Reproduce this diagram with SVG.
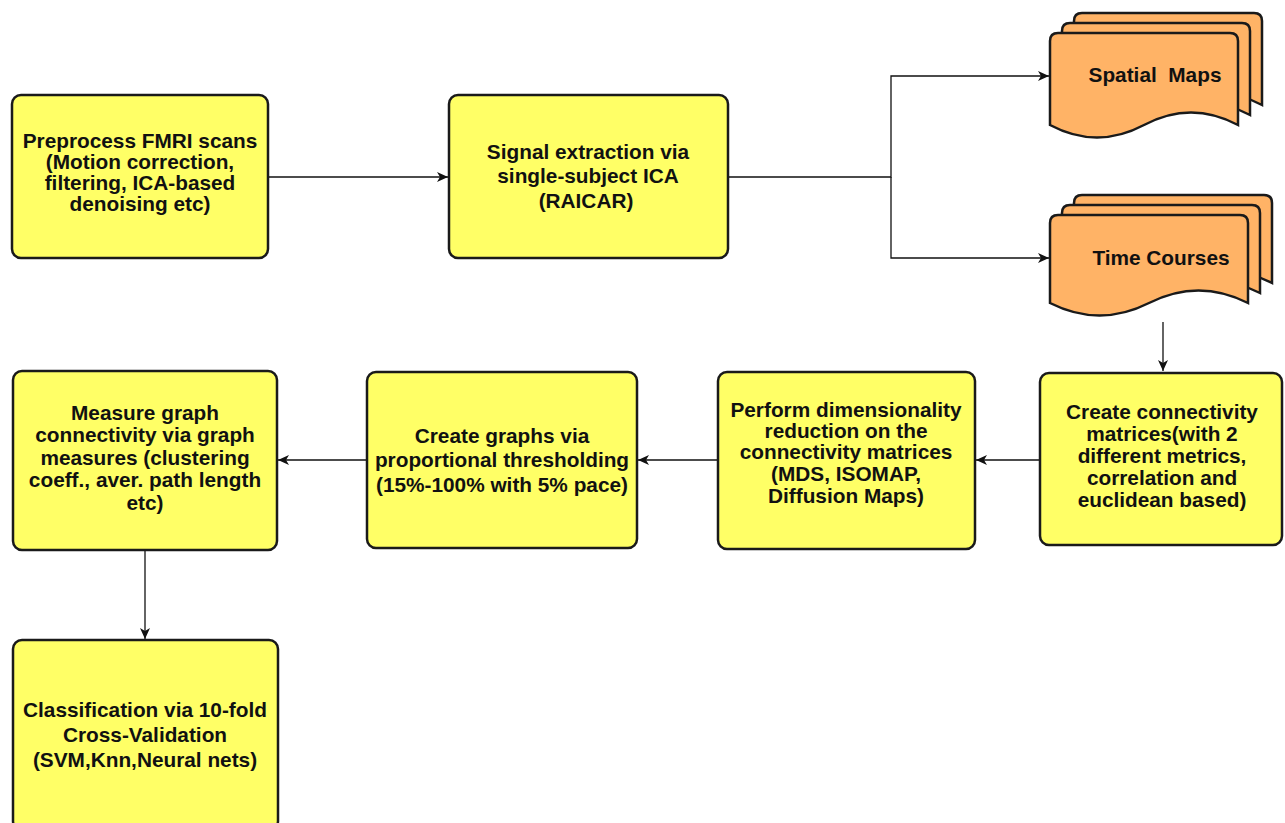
<svg xmlns="http://www.w3.org/2000/svg" width="1285" height="823" viewBox="0 0 1285 823">
<style>
.box{fill:#FFFF66;stroke:#1a1a1a;stroke-width:2.5}
.doc{fill:#FFB366;stroke:#1a1a1a;stroke-width:2.5}
.t{font-family:"Liberation Sans",Arial,sans-serif;font-weight:bold;font-size:20.8px;fill:#111;text-anchor:middle}
.c{fill:none;stroke:#111;stroke-width:1.3}
</style>
<defs>
<marker id="ah" markerUnits="userSpaceOnUse" markerWidth="12" markerHeight="10" refX="11" refY="5" orient="auto">
<path d="M0,0 L11,5 L0,10 L3,5 Z" fill="#111"/>
</marker>
</defs>
<rect width="1285" height="823" fill="#fff"/>

<g id="connectors">
<path class="c" d="M268,177 H448" marker-end="url(#ah)"/>
<path class="c" d="M728,177 H891 V76 H1049" marker-end="url(#ah)"/>
<path class="c" d="M891,177 V258 H1049" marker-end="url(#ah)"/>
<path class="c" d="M1163,322 V371" marker-end="url(#ah)"/>
<path class="c" d="M1040,460 H976" marker-end="url(#ah)"/>
<path class="c" d="M718,460 H638" marker-end="url(#ah)"/>
<path class="c" d="M367,460 H278" marker-end="url(#ah)"/>
<path class="c" d="M145,550 V639" marker-end="url(#ah)"/>
</g>

<g id="preprocess">
<rect class="box" x="12" y="95" width="256" height="163" rx="9"/>
<text class="t"><tspan x="140" y="148">Preprocess FMRI scans</tspan><tspan x="140" y="169">(Motion correction,</tspan><tspan x="140" y="190">filtering, ICA-based</tspan><tspan x="140" y="211">denoising etc)</tspan></text>
</g>

<g id="signal">
<rect class="box" x="449" y="95" width="279" height="163" rx="9"/>
<text class="t"><tspan x="588" y="159">Signal extraction via</tspan><tspan x="588" y="183">single-subject ICA</tspan><tspan x="586" y="208">(RAICAR)</tspan></text>
</g>

<g id="spatial">
<path class="doc" d="M1074,105 V21 Q1074,13 1082,13 H1254 Q1262,13 1262,21 V105 Q1215,80 1168,105 Q1121,130 1074,105 Z"/>
<path class="doc" d="M1062,115 V31 Q1062,23 1070,23 H1242 Q1250,23 1250,31 V115 Q1203,90 1156,115 Q1109,140 1062,115 Z"/>
<path class="doc" d="M1050,125 V41 Q1050,33 1058,33 H1230 Q1238,33 1238,41 V125 Q1191,100 1144,125 Q1097,150 1050,125 Z"/>
<text class="t" x="1155" y="82" xml:space="preserve">Spatial  Maps</text>
</g>

<g id="timecourses">
<path class="doc" d="M1074,283 V203 Q1074,195 1082,195 H1264 Q1272,195 1272,203 V283 Q1222.5,258 1173,283 Q1123.5,308 1074,283 Z"/>
<path class="doc" d="M1062,293 V213 Q1062,205 1070,205 H1252 Q1260,205 1260,213 V293 Q1210.5,268 1161,293 Q1111.5,318 1062,293 Z"/>
<path class="doc" d="M1050,303 V223 Q1050,215 1058,215 H1240 Q1248,215 1248,223 V303 Q1198.5,278 1149,303 Q1099.5,328 1050,303 Z"/>
<text class="t" x="1161" y="265">Time Courses</text>
</g>

<g id="connectivity">
<rect class="box" x="1040" y="373" width="242" height="172" rx="9"/>
<text class="t"><tspan x="1162" y="419">Create connectivity</tspan><tspan x="1162" y="441">matrices(with 2</tspan><tspan x="1162" y="463">different metrics,</tspan><tspan x="1162" y="485">correlation and</tspan><tspan x="1162" y="507">euclidean based)</tspan></text>
</g>

<g id="dimred">
<rect class="box" x="718" y="372" width="257" height="177" rx="9"/>
<text class="t"><tspan x="846" y="417">Perform dimensionality</tspan><tspan x="846" y="438">reduction on the</tspan><tspan x="846" y="459">connectivity matrices</tspan><tspan x="846" y="481">(MDS, ISOMAP,</tspan><tspan x="846" y="503">Diffusion Maps)</tspan></text>
</g>

<g id="graphs">
<rect class="box" x="367" y="372" width="270" height="176" rx="9"/>
<text class="t"><tspan x="502" y="443">Create graphs via</tspan><tspan x="502" y="467">proportional thresholding</tspan><tspan x="502" y="492">(15%-100% with 5% pace)</tspan></text>
</g>

<g id="measure">
<rect class="box" x="13" y="371" width="264" height="179" rx="9"/>
<text class="t"><tspan x="145" y="420">Measure graph</tspan><tspan x="145" y="442">connectivity via graph</tspan><tspan x="145" y="465">measures (clustering</tspan><tspan x="145" y="487">coeff., aver. path length</tspan><tspan x="145" y="510">etc)</tspan></text>
</g>

<g id="classification">
<rect class="box" x="13" y="640" width="265" height="190" rx="9"/>
<text class="t"><tspan x="145" y="717">Classification via 10-fold</tspan><tspan x="145" y="742">Cross-Validation</tspan><tspan x="145" y="767">(SVM,Knn,Neural nets)</tspan></text>
</g>
</svg>
